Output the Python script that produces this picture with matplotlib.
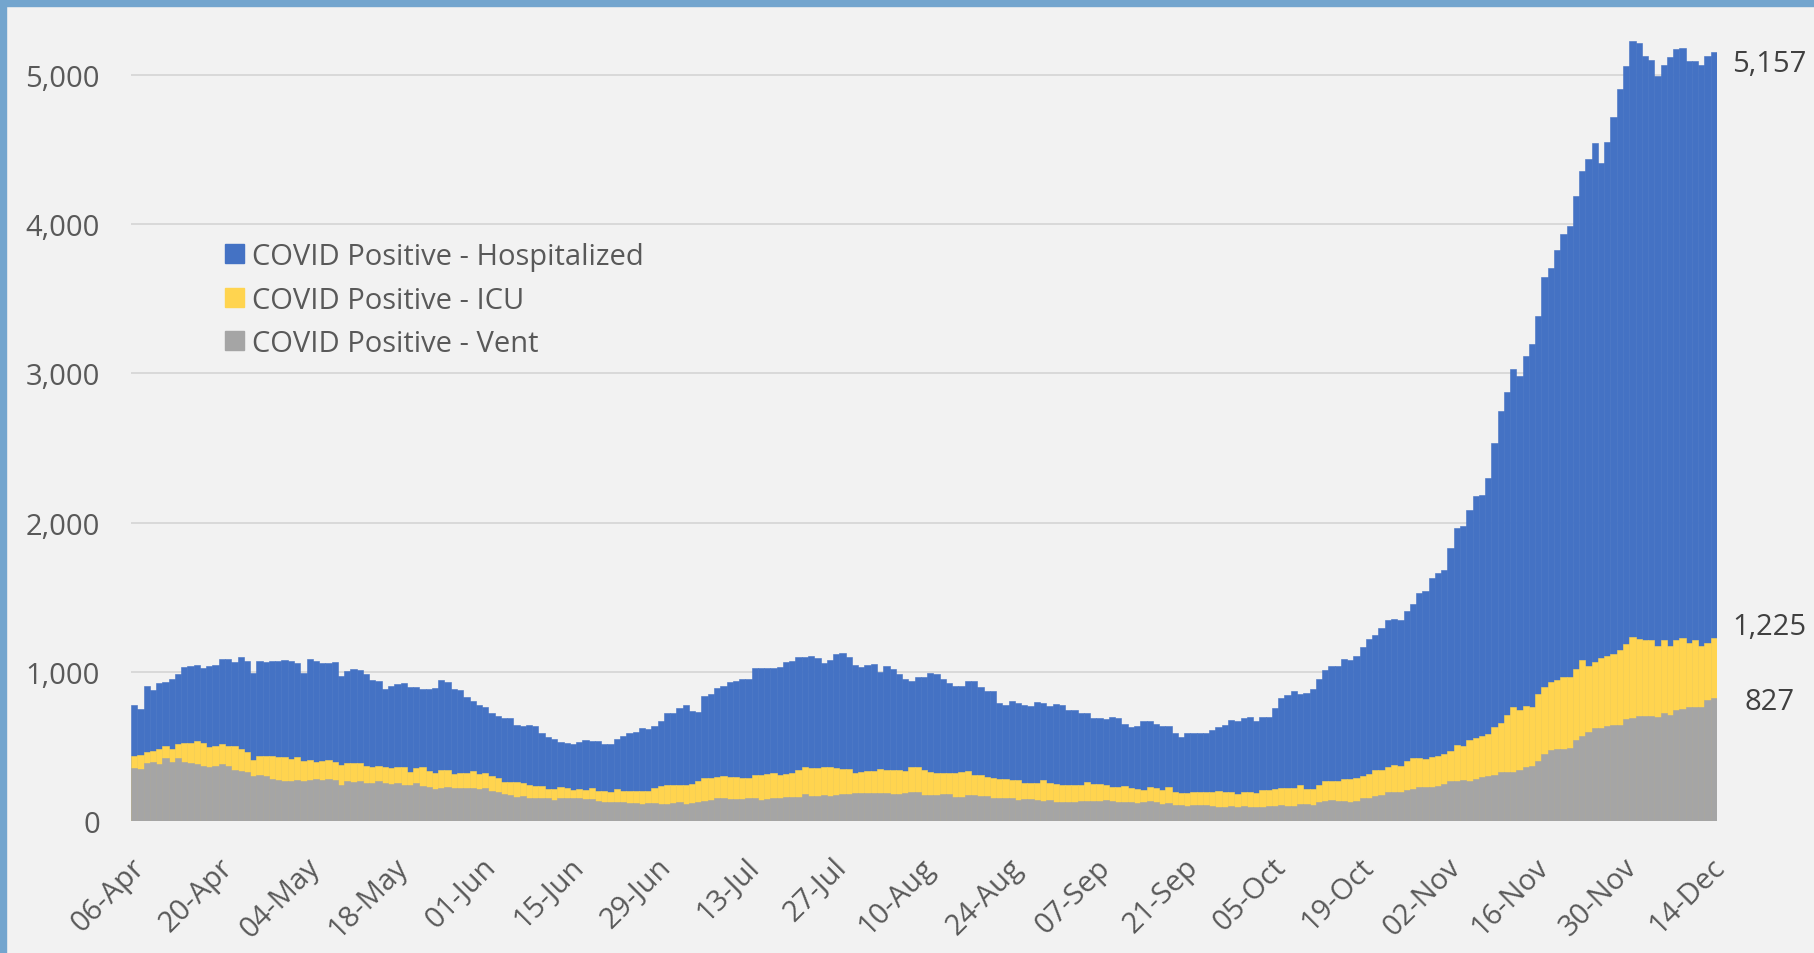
"""Daily COVID-positive hospital census, 06-Apr to 14-Dec.

Overlapping (not stacked) daily bars: total hospitalized, ICU, on ventilator.
Output: out.png (1814x954)
"""
import matplotlib
matplotlib.use("Agg")
import matplotlib.patches as mpatches
import matplotlib.pyplot as plt
import matplotlib.transforms as mtransforms
from matplotlib.ticker import FuncFormatter
import numpy as np
import pandas as pd

# ── data ─────────────────────────────────────────────────────────────────────
DATES = pd.date_range("2020-04-06", "2020-12-14", freq="D")

TICK_LABELS = [
    "06-Apr", "20-Apr", "04-May", "18-May", "01-Jun", "15-Jun", "29-Jun",
    "13-Jul", "27-Jul", "10-Aug", "24-Aug", "07-Sep", "21-Sep", "05-Oct",
    "19-Oct", "02-Nov", "16-Nov", "30-Nov", "14-Dec",
]

HOSPITALIZED = [
    775, 753, 905, 876, 926, 932, 955, 986, 1031, 1040,
    1047, 1027, 1038, 1047, 1085, 1085, 1063, 1101, 1072, 995,
    1070, 1063, 1070, 1070, 1076, 1070, 1056, 993, 1085, 1070,
    1056, 1056, 1063, 971, 1007, 1022, 1009, 986, 948, 939,
    883, 905, 921, 926, 901, 901, 885, 885, 892, 946,
    933, 883, 876, 831, 807, 777, 762, 724, 706, 690,
    690, 645, 636, 643, 636, 589, 560, 551, 528, 526,
    515, 528, 544, 537, 535, 515, 515, 551, 569, 589,
    598, 622, 616, 636, 670, 721, 721, 759, 775, 739,
    733, 838, 854, 892, 908, 933, 939, 953, 953, 1025,
    1025, 1025, 1025, 1031, 1063, 1072, 1101, 1101, 1108, 1094,
    1056, 1076, 1117, 1124, 1101, 1047, 1031, 1047, 1054, 1000,
    1038, 1016, 986, 955, 939, 962, 968, 993, 986, 955,
    924, 908, 908, 939, 939, 899, 872, 872, 791, 775,
    807, 791, 775, 768, 800, 791, 768, 784, 775, 746,
    746, 721, 721, 690, 690, 683, 697, 690, 649, 629,
    636, 670, 670, 652, 636, 636, 589, 566, 589, 589,
    589, 589, 607, 628, 643, 679, 673, 688, 695, 668,
    695, 695, 758, 823, 845, 868, 854, 861, 883, 953,
    1013, 1038, 1038, 1083, 1076, 1108, 1164, 1222, 1244, 1294,
    1350, 1356, 1350, 1408, 1457, 1531, 1540, 1630, 1664, 1684,
    1832, 1962, 1980, 2085, 2180, 2185, 2297, 2536, 2747, 2877,
    3031, 2983, 3116, 3195, 3386, 3648, 3706, 3826, 3932, 3990,
    4191, 4358, 4440, 4543, 4413, 4549, 4720, 4908, 5061, 5225,
    5215, 5130, 5102, 4993, 5068, 5123, 5171, 5184, 5096, 5096,
    5068, 5130, 5157,
]

ICU = [
    434, 443, 465, 472, 483, 501, 483, 515, 526, 521,
    533, 521, 499, 506, 517, 506, 506, 483, 465, 411,
    434, 434, 434, 427, 427, 416, 427, 404, 411, 398,
    404, 411, 398, 375, 386, 386, 386, 371, 364, 371,
    360, 353, 364, 364, 326, 353, 360, 335, 319, 342,
    342, 312, 319, 319, 333, 317, 319, 303, 285, 263,
    263, 263, 252, 240, 234, 234, 216, 216, 229, 220,
    209, 216, 211, 218, 200, 200, 195, 213, 204, 204,
    204, 204, 204, 220, 236, 243, 243, 243, 243, 249,
    265, 288, 288, 294, 303, 292, 297, 290, 290, 310,
    310, 312, 319, 306, 315, 319, 342, 364, 357, 357,
    362, 362, 357, 351, 348, 321, 330, 337, 337, 348,
    342, 342, 342, 335, 364, 364, 342, 330, 319, 324,
    324, 319, 326, 333, 310, 310, 297, 288, 279, 279,
    272, 272, 252, 258, 258, 272, 258, 249, 243, 243,
    243, 243, 263, 249, 249, 240, 231, 227, 234, 218,
    216, 211, 227, 220, 211, 227, 195, 189, 189, 195,
    195, 195, 195, 202, 195, 195, 179, 195, 195, 188,
    209, 209, 213, 220, 224, 224, 240, 217, 217, 240,
    269, 265, 265, 280, 280, 287, 303, 318, 341, 341,
    363, 377, 370, 404, 419, 419, 413, 426, 435, 448,
    471, 511, 505, 546, 553, 573, 584, 631, 659, 710,
    761, 741, 768, 761, 853, 898, 932, 945, 966, 966,
    1017, 1082, 1041, 1068, 1095, 1109, 1119, 1143, 1184, 1232,
    1222, 1212, 1212, 1171, 1212, 1171, 1212, 1225, 1195, 1212,
    1171, 1195, 1225,
]

VENT = [
    355, 351, 389, 395, 382, 420, 398, 422, 395, 389,
    382, 371, 364, 371, 380, 366, 342, 337, 328, 301,
    306, 299, 281, 274, 267, 267, 274, 270, 276, 281,
    276, 281, 274, 240, 265, 261, 265, 258, 258, 265,
    258, 247, 252, 243, 243, 258, 236, 229, 213, 222,
    227, 218, 218, 218, 218, 213, 218, 202, 195, 180,
    171, 162, 166, 157, 153, 157, 151, 144, 151, 151,
    155, 151, 146, 146, 133, 126, 126, 126, 124, 119,
    119, 112, 119, 119, 112, 117, 119, 124, 112, 119,
    124, 137, 142, 153, 153, 148, 148, 148, 155, 155,
    142, 148, 155, 155, 160, 160, 160, 178, 166, 166,
    171, 166, 171, 182, 182, 187, 187, 187, 191, 191,
    187, 182, 182, 187, 193, 193, 175, 175, 175, 182,
    178, 164, 164, 173, 173, 166, 166, 157, 155, 151,
    151, 144, 148, 148, 142, 135, 142, 126, 126, 126,
    126, 133, 133, 133, 133, 139, 133, 126, 126, 126,
    119, 126, 133, 126, 115, 119, 110, 110, 103, 110,
    110, 106, 103, 94, 92, 101, 96, 101, 96, 96,
    96, 101, 101, 108, 101, 101, 117, 112, 105, 128,
    135, 139, 135, 135, 128, 135, 157, 157, 166, 173,
    195, 195, 195, 209, 217, 226, 226, 226, 233, 249,
    265, 265, 277, 270, 283, 293, 304, 310, 328, 328,
    328, 345, 362, 369, 403, 447, 474, 485, 485, 491,
    546, 573, 597, 621, 621, 635, 645, 645, 683, 693,
    706, 703, 706, 700, 727, 713, 746, 751, 761, 764,
    764, 812, 827,
]

SERIES_NAMES = [
    "COVID Positive - Hospitalized",
    "COVID Positive - ICU",
    "COVID Positive - Vent",
]

# ── style ─────────────────────────────────────────────────────────────────────
BG = "#F2F2F2"
BLUE, GOLD, GREY = "#4472C4", "#FFD44F", "#A5A5A5"
GRID = "#D9D9D9"
TXT = "#595959"
FRAME = "#73A5CE"

W, H = 1814, 954


def main():
    plt.rcParams["font.family"] = ["Open Sans", "DejaVu Sans"]

    fig = plt.figure(figsize=(W / 100, H / 100), dpi=100)
    fig.patch.set_facecolor(BG)

    # plot area in pixels: x 131..1717, y-axis zero at 822, 5000 at 76
    px_per_unit = (822 - 76) / 5000
    ax = fig.add_axes([131 / W, 1 - 822 / H, (1717 - 131) / W, (822 - 8) / H])
    ax.set_facecolor(BG)

    x = np.arange(len(DATES))
    for vals, col, name in zip((HOSPITALIZED, ICU, VENT), (BLUE, GOLD, GREY), SERIES_NAMES):
        ax.bar(x, vals, width=1.0, color=col, edgecolor=col, linewidth=0.4,
               label=name, zorder=2)

    ax.set_xlim(-0.5, len(DATES) - 0.5)
    ax.set_ylim(0, (822 - 8) / px_per_unit)

    for sp in ax.spines.values():
        sp.set_visible(False)

    # y axis
    ax.set_yticks(range(0, 5001, 1000))
    ax.yaxis.set_major_formatter(FuncFormatter(lambda v, _: f"{int(v):,}"))
    ax.tick_params(axis="y", length=0, pad=22.3, labelsize=21, labelcolor=TXT)
    ax.yaxis.grid(True, color=GRID, linewidth=1.4)
    ax.set_axisbelow(True)

    # x axis: every 14th day, rotated
    ax.set_xticks(x[::14])
    ax.set_xticklabels(TICK_LABELS, rotation=45, ha="right", va="top",
                       rotation_mode="anchor", fontsize=21, color=TXT)
    ax.tick_params(axis="x", length=0, pad=22.5)
    shift = mtransforms.ScaledTranslation(-4 / 100, 0, fig.dpi_scale_trans)
    for lbl in ax.get_xticklabels():
        lbl.set_transform(lbl.get_transform() + shift)

    # end-of-series value labels
    last = x[-1]
    for vals, dy in ((HOSPITALIZED, -8.5), (ICU, 8.5), (VENT, -2.5)):
        ax.annotate(f"{vals[-1]:,}", xy=(last, vals[-1]), xytext=(40, dy),
                    textcoords="offset points", ha="center", va="center",
                    fontsize=21, color="#404040", annotation_clip=False)

    # legend
    handles = [mpatches.Patch(color=c) for c in (BLUE, GOLD, GREY)]
    fig.legend(handles, SERIES_NAMES, loc="upper left",
               bbox_to_anchor=(225 / W, 1 - 243 / H), frameon=False,
               fontsize=21, labelcolor=TXT, borderpad=0, borderaxespad=0,
               handlelength=0.65, handleheight=0.62, handletextpad=0.27,
               labelspacing=0.5)

    # chart frame: blue band along top and left edges
    fig.patches.append(mpatches.Rectangle((0, 1 - 7 / H), 1, 7 / H,
                                          transform=fig.transFigure,
                                          color=FRAME, zorder=10))
    fig.patches.append(mpatches.Rectangle((0, 0), 6 / W, 1,
                                          transform=fig.transFigure,
                                          color=FRAME, zorder=10))

    fig.savefig("out.png", dpi=100, facecolor=fig.get_facecolor())
    plt.close(fig)


if __name__ == "__main__":
    main()
